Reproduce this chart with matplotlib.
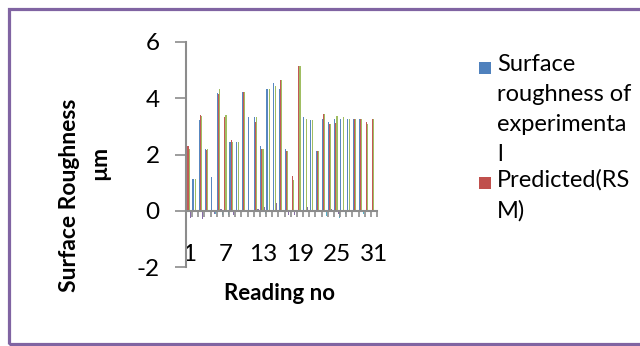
import numpy as np
import matplotlib
matplotlib.use("Agg")
import matplotlib.pyplot as plt
from matplotlib.patches import Rectangle

plt.rcParams['font.family'] = ['Lato', 'DejaVu Sans']

# readings 1..31
readings = np.arange(1, 32)
tick_labels = ['1', '7', '13', '19', '25', '31']

# values (0 = no bar visible)
experimental = [2.07, 1.13, 3.21, 2.21, 1.2, 4.2, 0, 2.43, 2.43, 4.23, 3.33, 3.33, 2.31, 4.32, 4.55, 4.32,
                2.19, 0, 0, 3.33, 3.21, 2.13, 3.27, 3.15, 3.27, 3.27, 3.27, 3.27, 3.27, 0, 0]
predicted = [2.3, 0, 3.4, 2.15, 0, 4.15, 3.33, 2.53, 0, 4.23, 0, 3.17, 2.19, 0, 0, 4.65,
             2.13, 1.23, 5.13, 0, 0, 2.13, 3.43, 3.09, 3.13, 0, 0, 3.27, 3.27, 3.15, 3.27]
series3 = [2.19, 1.13, 3.36, 2.21, 0, 4.32, 3.41, 2.43, 2.43, 4.23, 0, 3.33, 2.19, 4.32, 4.44, 4.65,
           2.13, 1.09, 5.13, 3.27, 3.21, 2.13, 3.43, 3.09, 3.37, 3.32, 3.27, 3.27, 3.27, 3.1, 3.27]
series4 = [-0.25, 0, -0.3, 0, -0.1, 0.05, -0.05, -0.15, 0, 0, 0, 0.05, 0.15, 0, 0.28, 0,
           -0.15, -0.15, 0, 0.15, 0, 0, -0.05, 0.05, -0.1, 0, 0, -0.05, -0.05, -0.05, 0]
series5 = [0, 0, 0, 0, -0.1, -0.15, -0.15, 0, 0, 0, -0.05, 0, -0.1, 0, 0, 0,
           0, 0, 0, 0, 0, 0, -0.2, 0, -0.25, -0.1, -0.05, 0, -0.1, -0.05, 0]

legend_labels = ['Surface\nroughness of\nexperimenta\nl', 'Predicted(RS\nM)']

colors = ['#4F81BD', '#C0504D', '#9BBB59', '#8064A2', '#4BACC6']
W, H = 640, 346

fig = plt.figure(figsize=(6.4, 3.46), dpi=100)
ax = fig.add_axes([186 / W, 1 - 267 / H, 191 / W, 225 / H])

bw = 0.18
allseries = [experimental, predicted, series3, series4, series5]
for i, (vals, c) in enumerate(zip(allseries, colors)):
    ax.bar(readings + (i - 2) * bw, vals, width=bw, color=c, alpha=0.95, linewidth=0)

ax.set_xlim(0.5, 31.5)
ax.set_ylim(-2, 6)
ax.set_yticks([-2, 0, 2, 4, 6])
ax.set_yticklabels(['-2', '0', '2', '4', '6'])

for s in ['top', 'right']:
    ax.spines[s].set_visible(False)
ax.spines['bottom'].set_position(('data', 0))
for s in ['left', 'bottom']:
    ax.spines[s].set_color('#8c8c8c')
    ax.spines[s].set_linewidth(1.5)

ax.set_xticks([int(t) for t in tick_labels])
ax.set_xticklabels(tick_labels)
ax.set_xticks(np.arange(0.5, 32, 1), minor=True)
ax.tick_params(axis='x', which='major', length=0, pad=24, labelsize=17.5)
ax.tick_params(axis='x', which='minor', length=4.5, width=1.2, color='#8c8c8c', direction='out')
ax.tick_params(axis='y', length=8, width=1.2, color='#8c8c8c', pad=11, labelsize=17.5)

fig.text(280 / W, 1 - 293 / H, 'Reading no', fontsize=16, fontweight='bold', ha='center', va='center')
fig.text(69 / W, 1 - 195 / H, 'Surface Roughness', fontsize=16.5, fontweight='bold', rotation=90,
         ha='center', va='center')
fig.text(100 / W, 1 - 163 / H, 'µm', fontsize=16.5, fontweight='bold', rotation=90,
         ha='center', va='center')

# legend
for lab, c, y0 in zip(legend_labels, colors[:2], [68, 183]):
    fig.patches.append(Rectangle((479 / W, 1 - (y0 + 6) / H), 12 / W, 12 / H, transform=fig.transFigure,
                                 facecolor=c, edgecolor='none'))
    fig.text(497 / W, 1 - (y0 - 14) / H, lab, fontsize=17, ha='left', va='top', linespacing=1.53)

# outer purple frame
fig.patches.append(Rectangle((8.5 / W, 1 - 343.5 / H), 700 / W, 335 / H, transform=fig.transFigure,
                             facecolor='none', edgecolor='#8064A2', linewidth=2.3))

fig.savefig('out.png', dpi=100)
